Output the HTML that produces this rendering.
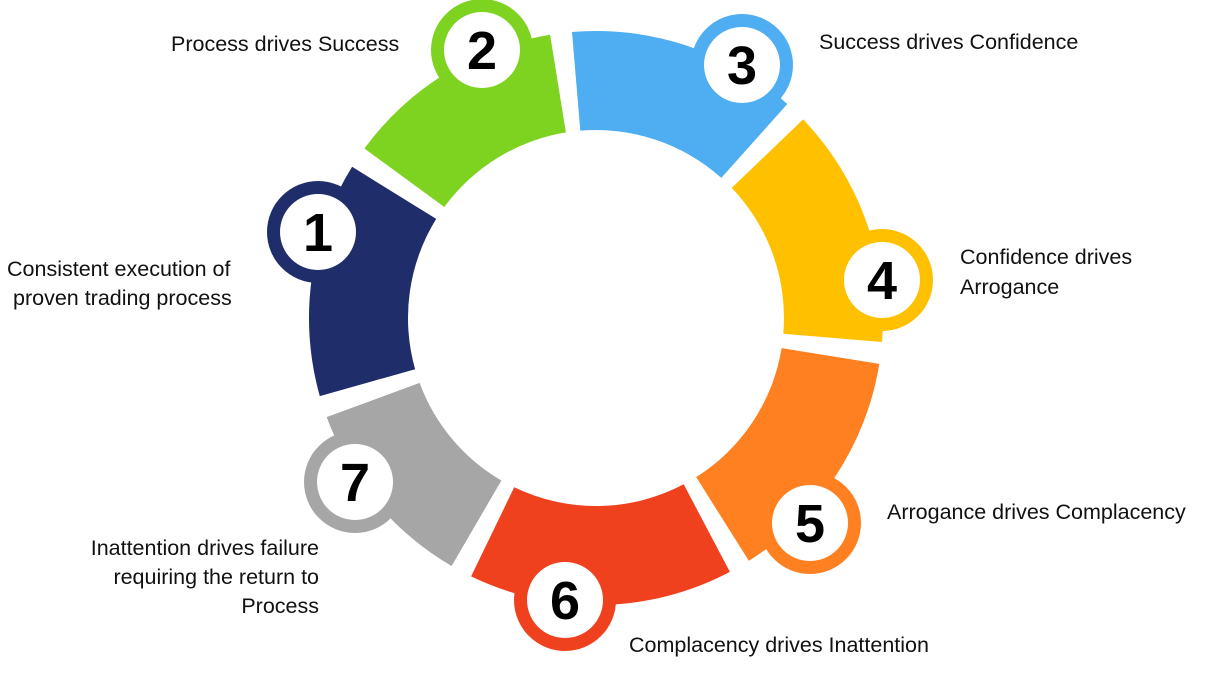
<!DOCTYPE html>
<html><head><meta charset="utf-8"><style>
html,body{margin:0;padding:0;background:#fff;width:1209px;height:680px;overflow:hidden}
svg{display:block}
text{font-family:"Liberation Sans",sans-serif}
.l{font-size:21.5px;fill:#111}
.n{font-size:54px;font-weight:bold;fill:#000;text-anchor:middle}
</style></head><body>
<svg id="s" width="1209" height="680" xmlns="http://www.w3.org/2000/svg">
<g id="segs"></g>
<g id="badges"></g>
<text class="l" x="171" y="51">Process drives Success</text>
<text class="l" x="819" y="49">Success drives Confidence</text>
<text class="l" x="960" y="264">Confidence drives</text>
<text class="l" x="960" y="294">Arrogance</text>
<text class="l" x="887" y="519">Arrogance drives Complacency</text>
<text class="l" x="629" y="652">Complacency drives Inattention</text>
<text class="l" x="7" y="276">Consistent execution of</text>
<text class="l" x="13" y="305">proven trading process</text>
<text class="l" x="319" y="555" text-anchor="end">Inattention drives failure</text>
<text class="l" x="319" y="584" text-anchor="end">requiring the return to</text>
<text class="l" x="319" y="613" text-anchor="end">Process</text>
</svg>
<script>
var cx=596,cy=318,Ro=287,Ri=188,gap=2.2;
var g=[162,214,263,314,367,420,478,522];
var cols=["#1F2D6A","#7ED321","#4EAEF1","#FFC000","#FF8021","#F0411F","#A6A6A6"];
var bs=[[318,232],[482,50],[742,65],[882,280],[810,523],[565,600],[355,482]];
function p(r,a){a=a*Math.PI/180;return (cx+r*Math.cos(a)).toFixed(1)+","+(cy+r*Math.sin(a)).toFixed(1);}
var h="",b="";
for(var i=0;i<7;i++){
 var a1=g[i]+gap,a2=g[i+1]-gap;
 h+='<path fill="'+cols[i]+'" d="M'+p(Ro,a1)+' A'+Ro+','+Ro+' 0 0 1 '+p(Ro,a2)+' L'+p(Ri,a2)+' A'+Ri+','+Ri+' 0 0 0 '+p(Ri,a1)+' Z"/>';
 b+='<circle cx="'+bs[i][0]+'" cy="'+bs[i][1]+'" r="51" fill="'+cols[i]+'"/><circle cx="'+bs[i][0]+'" cy="'+bs[i][1]+'" r="38" fill="#fff"/><text class="n" x="'+bs[i][0]+'" y="'+(bs[i][1]+19)+'">'+(i+1)+'</text>';
}
document.getElementById("segs").innerHTML=h;
document.getElementById("badges").innerHTML=b;
</script>
</body></html>
